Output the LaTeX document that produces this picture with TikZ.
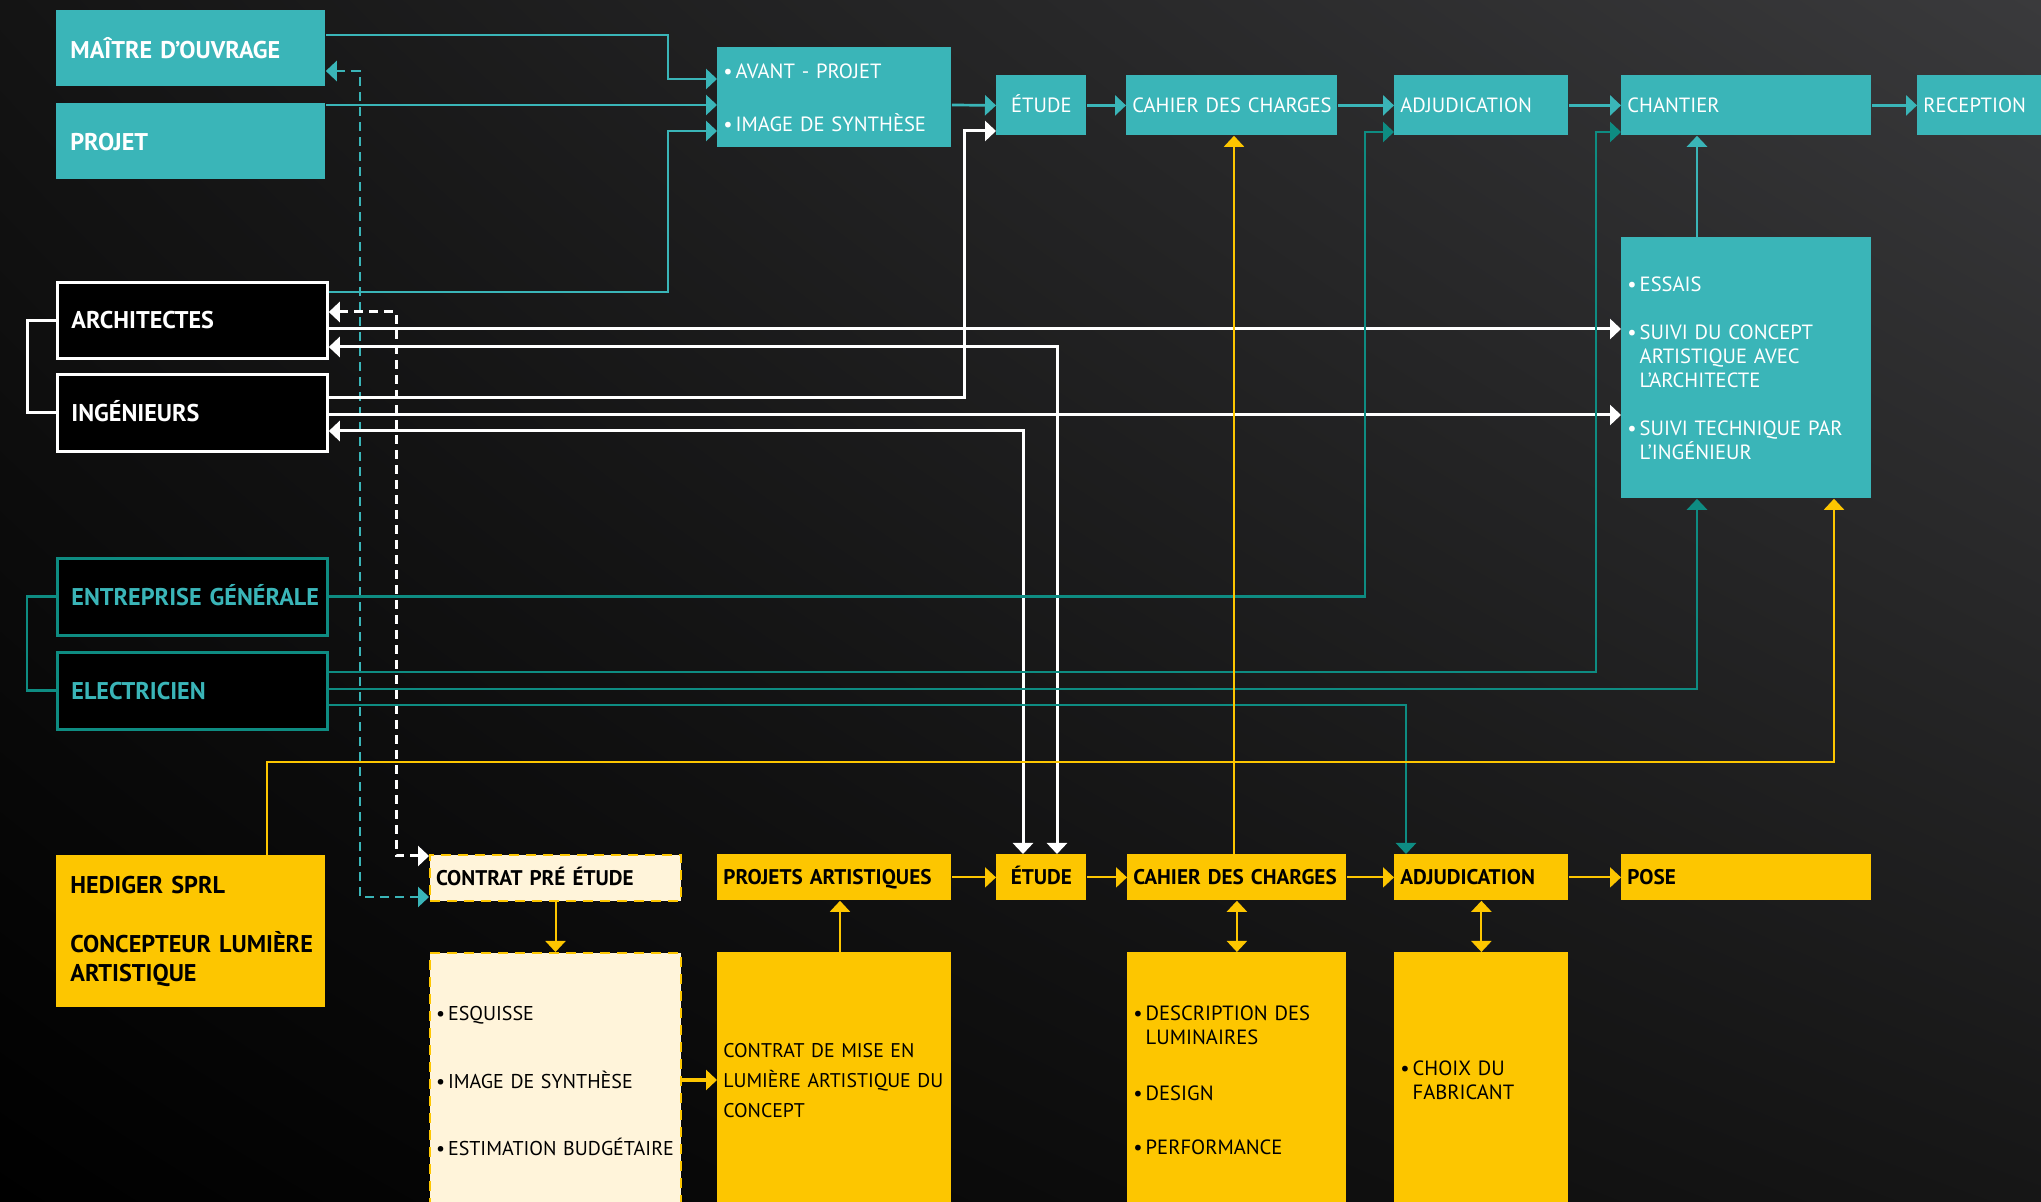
\documentclass[tikz,border=0pt]{standalone}
\usepackage{fontspec}
\setmainfont{PT Sans}
\usetikzlibrary{arrows.meta,shadings}
\definecolor{tealbox}{RGB}{58,181,184}
\definecolor{tealdark}{RGB}{14,140,130}
\definecolor{hedyellow}{RGB}{253,198,0}
\definecolor{hedcream}{RGB}{255,244,218}
\definecolor{bgul}{RGB}{20,20,20}
\definecolor{bgur}{RGB}{58,58,60}
\definecolor{bglr}{RGB}{22,22,22}
\newcommand{\bul}{•\nobreak\hspace{1.5pt}}
\begin{document}
\begin{tikzpicture}[x=0.5pt,y=-0.5pt,
        >={Triangle[length=5.5pt,width=10pt]},
        box/.style 2 args={anchor=north west,inner ysep=0pt,text width=#1,
            minimum height=#2,align=left},
        cap/.style={text height=#1,text depth=0pt},
        big/.style={inner xsep=7pt,font=\bfseries\fontsize{12.1}{14.3}\selectfont},
        small/.style={inner xsep=3pt,font=\fontsize{10.3}{12}\selectfont},
        heavy/.style={font=\bfseries\fontsize{10.6}{12}\selectfont},
        tbox/.style={fill=tealbox,text=white},
        wbox/.style={fill=black,draw=white,line width=1.4pt,text=white},
        gbox/.style={fill=black,draw=tealdark,line width=1.4pt,text=tealbox},
        ybox/.style={fill=hedyellow,text=black},
        cbox/.style={fill=hedcream,draw=hedyellow,line width=1pt,
            dash pattern=on 5pt off 3.5pt,text=black},
        tline/.style={draw=tealbox,line width=1.35pt},
        wline/.style={draw=white,line width=1.5pt},
        gline/.style={draw=tealdark,line width=1.4pt},
        yline/.style={draw=hedyellow,line width=1pt},
        dashline/.style={dash pattern=on 4.5pt off 3pt}]
	\useasboundingbox (0,0) rectangle (2041,1202);
	\shade[upper left=bgul,upper right=bgur,lower left=black,lower right=bglr]
        (0,0) rectangle (2041,1202);

	% acteurs
	\node[box={120.5pt}{38pt},big,cap=10pt,tbox] (mo) at (56,10) {MAÎTRE D’OUVRAGE};
	\node[box={120.5pt}{38pt},big,cap=9.5pt,tbox] (projet) at (56,103) {PROJET};
	\node[box={121pt}{38pt},big,cap=8.4pt,wbox] (arch) at (56,281) {ARCHITECTES};
	\node[box={121pt}{38.5pt},big,cap=8.4pt,wbox] (ing) at (56,373) {INGÉNIEURS};
	\node[box={121pt}{38.5pt},big,cap=8.4pt,gbox] (eg) at (56,557) {\mbox{ENTREPRISE GÉNÉRALE}};
	\node[box={121pt}{38.5pt},big,cap=8.4pt,gbox] (elec) at (56,651) {ELECTRICIEN};
	\node[box={120.5pt}{76pt},big,ybox] (hed) at (56,855)
        {HEDIGER SPRL\\[15pt]\mbox{CONCEPTEUR LUMIÈRE}\\ARTISTIQUE};
	\draw[wline] (arch.west) -- ++(-29,0) |- (ing.west);
	\draw[gline] (eg.west) -- ++(-29,0) |- (elec.west);

	% chaine du haut
	\node[box={111pt}{50pt},small,tbox] (avant) at (717,47)
        {\bul AVANT - PROJET\\[14.5pt]\bul\mbox{IMAGE DE SYNTHÈSE}};
	\node[box={39pt}{30pt},small,cap=7.2pt,tbox,align=center] (etude) at (996,75) {ÉTUDE};
	\node[box={99.5pt}{30pt},small,cap=7.2pt,tbox] (cdc) at (1126,75) {\mbox{CAHIER DES CHARGES}};
	\node[box={81pt}{30pt},small,cap=7.2pt,tbox] (adj) at (1394,75) {ADJUDICATION};
	\node[box={119pt}{30pt},small,cap=7.2pt,tbox] (chantier) at (1621,75) {CHANTIER};
	\node[box={59pt}{30pt},small,cap=7.2pt,tbox] (recep) at (1917,75) {RECEPTION};
	\node[box={119pt}{130.5pt},small,tbox] (suivi) at (1621,237)
        {\bul ESSAIS\\[12pt]\bul\mbox{SUIVI DU CONCEPT}\\\hphantom{\bul}ARTISTIQUE AVEC\\
        \hphantom{\bul}L’ARCHITECTE\\[12pt]\bul\mbox{SUIVI TECHNIQUE PAR}\\\hphantom{\bul}L’INGÉNIEUR};

	% chaine du bas
	\node[box={119.5pt}{23pt},small,heavy,cap=7.4pt,cbox] (cpe) at (429,854) {CONTRAT PRÉ ÉTUDE};
	\node[box={111pt}{23pt},small,heavy,cap=7.4pt,ybox] (pa) at (717,854) {\mbox{PROJETS ARTISTIQUES}};
	\node[box={39pt}{23pt},small,heavy,cap=7.4pt,ybox,align=center] (etude2) at (996,854) {ÉTUDE};
	\node[box={103.5pt}{23pt},small,heavy,cap=7.4pt,ybox] (cdc2) at (1127,854) {\mbox{CAHIER DES CHARGES}};
	\node[box={81pt}{23pt},small,heavy,cap=7.4pt,ybox] (adj2) at (1394,854) {ADJUDICATION};
	\node[box={119pt}{23pt},small,heavy,cap=7.4pt,ybox] (pose) at (1621,854) {POSE};

	\node[box={119.5pt}{128pt},small,cbox,font=\fontsize{10}{12}\selectfont] (cped) at (429,952)
        {\bul ESQUISSE\\[21.5pt]\bul\mbox{IMAGE DE SYNTHÈSE}\\[21.5pt]\bul\mbox{ESTIMATION BUDGÉTAIRE}};
	\node[box={111pt}{128pt},small,ybox,font=\fontsize{9.9}{15}\selectfont] (cmise) at (717,952)
        {\mbox{CONTRAT DE MISE EN}\\\mbox{LUMIÈRE ARTISTIQUE DU}\\CONCEPT};
	\node[box={103.5pt}{128pt},small,ybox] (cdcd) at (1127,952)
        {\bul\mbox{DESCRIPTION DES}\\\hphantom{\bul}LUMINAIRES\\[16pt]\bul DESIGN\\[15pt]\bul PERFORMANCE};
	\node[box={81pt}{128pt},small,ybox] (adjd) at (1394,952)
        {\bul CHOIX DU\\\hphantom{\bul}FABRICANT};

	% liaisons turquoise
	\draw[tline,->] (mo.east |- 0,35) -| (668,79) -- (avant.west |- 0,79);
	\draw[tline,->] (projet.east |- 0,105) -- (avant.west |- 0,105);
	\draw[tline,->] (arch.east |- 0,292) -| (668,131) -- (avant.west |- 0,131);
	\draw[tline,->] (avant.east |- 0,105) -- (etude.west);
	\draw[tline,->] (etude.east) -- (cdc.west);
	\draw[tline,->] (cdc.east) -- (adj.west);
	\draw[tline,->] (adj.east) -- (chantier.west);
	\draw[tline,->] (chantier.east) -- (recep.west);
	\draw[tline,->] (1697,0 |- suivi.north) -- (1697,0 |- chantier.south);
	\draw[tline,dashline,<->] (mo.east |- 0,71) -| (360,897) -- (cpe.west |- 0,897);

	% liaisons blanches
	\draw[wline,dashline,<->] (arch.east |- 0,312) -| (396,856) -- (cpe.west |- 0,856);
	\draw[wline,->] (arch.east |- 0,329) -- (suivi.west |- 0,329);
	\draw[wline,<->] (arch.east |- 0,347) -| (1057,0 |- etude2.north);
	\draw[wline,->] (ing.east |- 0,398) -| (964,131) -- (etude.west |- 0,131);
	\draw[wline,->] (ing.east |- 0,415) -- (suivi.west |- 0,415);
	\draw[wline,<->] (ing.east |- 0,431) -| (1023,0 |- etude2.north);

	% entreprises
	\draw[gline,->] (eg.east) -| (1365,132) -- (adj.west |- 0,132);
	\draw[gline,->] (elec.east |- 0,672) -| (1596,132) -- (chantier.west |- 0,132);
	\draw[gline,->] (elec.east |- 0,689) -| (1697,0 |- suivi.south);
	\draw[gline,->] (elec.east |- 0,705) -| (1406,0 |- adj2.north);

	% concepteur lumiere
	\draw[yline,->] (267,0 |- hed.north) |- (1834,762) -- (1834,0 |- suivi.south);
	\draw[yline,->] (1234,0 |- cdc2.north) -- (1234,0 |- cdc.south);
	\draw[yline,->] (pa.east) -- (etude2.west);
	\draw[yline,->] (etude2.east) -- (cdc2.west);
	\draw[yline,->] (cdc2.east) -- (adj2.west);
	\draw[yline,->] (adj2.east) -- (pose.west);
	\draw[yline,->] (cpe.south) -- (cped.north);
	\draw[yline,line width=2pt,->] (cped.east |- 0,1080) -- (cmise.west |- 0,1080);
	\draw[yline,->] (840,0 |- cmise.north) -- (840,0 |- pa.south);
	\draw[yline,<->] (cdcd.north) -- (cdc2.south);
	\draw[yline,<->] (adjd.north) -- (adj2.south);
\end{tikzpicture}
\end{document}
